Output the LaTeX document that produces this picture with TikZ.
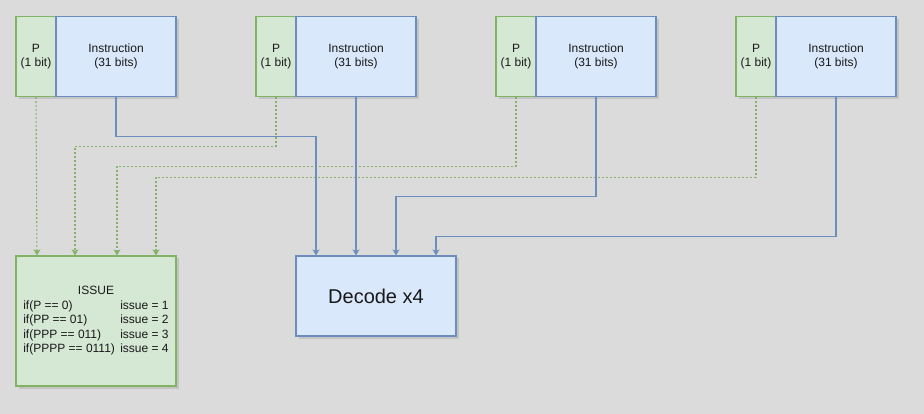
\documentclass[tikz,border=0pt]{standalone}
\usepackage{fontspec}
\setmainfont{Liberation Sans}
\usetikzlibrary{arrows.meta,shadows}
\definecolor{pfill}{HTML}{D5E8D4}
\definecolor{pline}{HTML}{82B366}
\definecolor{ifill}{HTML}{DAE8FC}
\definecolor{iline}{HTML}{6C8EBF}
\definecolor{canvas}{HTML}{DBDBDB}

\begin{document}
\begin{tikzpicture}[x=1pt,y=-1pt]
\tikzstyle{every node}+=[inner sep=0pt, font=\fontsize{12}{14.5}\selectfont, text=black!90]
\tikzstyle{softshadow}=[drop shadow={shadow xshift=2.5pt, shadow yshift=-2.5pt, opacity=0.25}]
\tikzstyle{pbox}=[draw=pline, fill=pfill, line width=1.2pt, minimum width=40pt, minimum height=80pt, align=center, softshadow]
\tikzstyle{ibox}=[draw=iline, fill=ifill, line width=1.2pt, minimum width=120pt, minimum height=80pt, align=center, softshadow]
\tikzstyle{pdot}=[pline, line width=1.1pt, dash pattern=on 2pt off 2pt, -{Stealth[length=6pt,width=7pt,inset=1.5pt]}]
\tikzstyle{iwire}=[iline, line width=1.1pt, -{Stealth[length=6pt,width=7pt,inset=1.5pt]}]
\fill [canvas] (0,0) rectangle (924,414);
\useasboundingbox (0,0) rectangle (924,414);
% fetched words
\node [pbox] (p1) at (36,56.5) {P\\(1 bit)};
\node [ibox] (ins1) at (116,56.5) {Instruction\\(31 bits)};
\node [pbox] (p2) at (276,56.5) {P\\(1 bit)};
\node [ibox] (ins2) at (356,56.5) {Instruction\\(31 bits)};
\node [pbox] (p3) at (516,56.5) {P\\(1 bit)};
\node [ibox] (ins3) at (596,56.5) {Instruction\\(31 bits)};
\node [pbox] (p4) at (756,56.5) {P\\(1 bit)};
\node [ibox] (ins4) at (836,56.5) {Instruction\\(31 bits)};
% issue logic and decoder
\node [pbox, minimum width=160pt, minimum height=130pt] (issue) at (96,321) {ISSUE\\
\makebox[97pt][l]{if(P == 0)}issue = 1\\
\makebox[97pt][l]{if(PP == 01)}issue = 2\\
\makebox[97pt][l]{if(PPP == 011)}issue = 3\\
\makebox[97pt][l]{if(PPPP == 0111)}issue = 4};
\node [ibox, minimum width=160pt, minimum height=80pt, font=\fontsize{20}{24}\selectfont] (decode) at (376,296) {Decode x4};
% P bits to issue
\draw [pdot] (p1.south) -- ([xshift=-59pt]issue.north);
\draw [pdot] (p2.south) -- ++(0,49) -| ([xshift=-21pt]issue.north);
\draw [pdot] (p3.south) -- ++(0,69) -| ([xshift=21pt]issue.north);
\draw [pdot] (p4.south) -- ++(0,80) -| ([xshift=60pt]issue.north);
% instructions to decode
\draw [iwire] (ins1.south) -- ++(0,39) -| ([xshift=-60pt]decode.north);
\draw [iwire] (ins2.south) -- ([xshift=-20pt]decode.north);
\draw [iwire] (ins3.south) -- ++(0,99) -| ([xshift=20pt]decode.north);
\draw [iwire] (ins4.south) -- ++(0,139) -| ([xshift=60pt]decode.north);
\end{tikzpicture}
\end{document}
